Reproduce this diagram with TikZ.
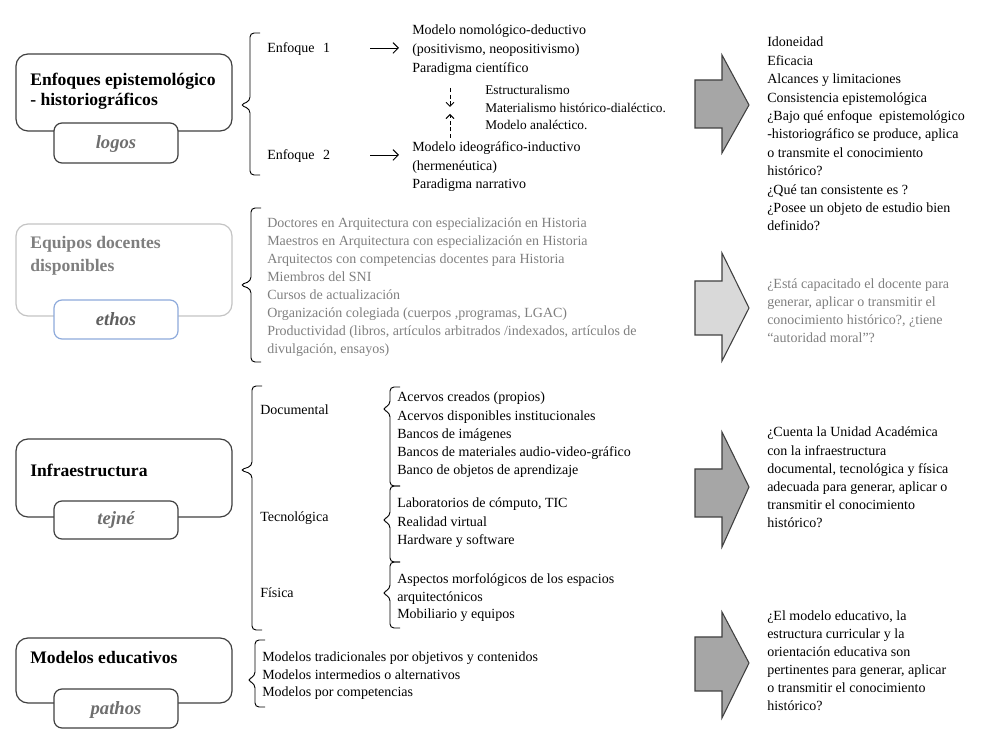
\documentclass[tikz,border=0pt]{standalone}
\usepackage{fontspec}
\setmainfont{Liberation Serif}
\usetikzlibrary{arrows.meta}
\definecolor{edge}{HTML}{404040}
\definecolor{lightedge}{HTML}{C4C4C4}
\definecolor{blueedge}{HTML}{8EAADB}
\definecolor{graytext}{HTML}{7F7F7F}
\definecolor{tabgray}{HTML}{6E6E6E}
\definecolor{darkfill}{HTML}{A6A6A6}
\definecolor{lightfill}{HTML}{D9D9D9}
\newcommand\tl[1]{\begin{tabular}[t]{@{}l@{}}#1\end{tabular}}
\newcommand\mybrace[5]{%
  \draw[bracestyle] (#1+10,#2) -- (#1,#2) -- (#1,#3-4) -- (#5,#3) -- (#1,#3+4) -- (#1,#4) -- (#1+10,#4);}
\newcommand\blockarr[6]{%
  \draw[blockarrow, fill=#1] (695,#2) -- (722,#2) -- (722,#4) -- (749,#6) -- (722,#5) -- (722,#3) -- (695,#3) -- cycle;}
\begin{document}
\begin{tikzpicture}[x=0.75pt,y=-0.75pt,
  txt/.style={anchor=base west, inner sep=0, font=\fontsize{10.5}{#1}\selectfont},
  txt/.default=13.6,
  small/.style={anchor=base west, inner sep=0, font=\fontsize{10}{13.1}\selectfont},
  hdr/.style={anchor=base west, inner sep=0, font=\fontsize{13.2}{#1}\selectfont\bfseries},
  hdr/.default=15,
  tabtxt/.style={anchor=base, inner sep=0, font=\fontsize{14}{16}\selectfont\bfseries\itshape, text=tabgray},
  outerbox/.style={draw=edge, line width=0.9pt, rounded corners=9pt, fill=white},
  tabbox/.style={draw=edge, line width=0.9pt, rounded corners=6pt, fill=white},
  blockarrow/.style={draw=edge, line width=0.8pt, line join=miter},
  bracestyle/.style={draw=black, line width=0.7pt, rounded corners=3pt},
  linearrow/.style={-{Straight Barb[length=4pt,width=8pt]}, line width=0.7pt},
  dasharrow/.style={-{Straight Barb[length=3pt,width=6pt]}, line width=0.7pt, dash pattern=on 3pt off 2pt}]
\useasboundingbox (0,0) rectangle (990,741);

% ---------- Left boxes ----------
\draw[outerbox] (16,54) rectangle (232,131);
\draw[tabbox] (54,123) rectangle (178,163);
\node[hdr] (h1) at (30,86) {\tl{Enfoques epistemológico\\- historiográficos}};
\node[tabtxt] (t1) at (116,149) {logos};

\draw[outerbox, draw=lightedge] (16,224) rectangle (232,316);
\draw[tabbox, draw=blueedge] (54,300) rectangle (178,339);
\node[hdr=17, text=graytext] (h2) at (30,249) {\tl{Equipos docentes\\disponibles}};
\node[tabtxt, text=graytext!75!black] (t2) at (116,326) {ethos};

\draw[outerbox] (16,439) rectangle (232,517);
\draw[tabbox] (54,501) rectangle (178,539);
\node[hdr] (h3) at (30,477) {Infraestructura};
\node[tabtxt] (t3) at (116,525) {tejné};

\draw[outerbox] (16,638) rectangle (232,703);
\draw[tabbox] (54,689) rectangle (178,728);
\node[hdr] (h4) at (30,663) {Modelos educativos};
\node[tabtxt] (t4) at (116,715) {pathos};

% ---------- Braces ----------
\mybrace{250}{33}{105}{175}{240}
\mybrace{251}{208}{285}{362}{240}
\mybrace{252}{386}{470}{630}{240}
\mybrace{255}{640}{680}{707}{247}
\mybrace{390}{387}{409}{486}{382}
\mybrace{390}{486}{520}{562}{382}
\mybrace{390}{562}{593}{628}{382}

% ---------- Section 1 ----------
\node[txt] (e1) at (267,53) {Enfoque\hspace{0.6em}1};
\node[txt] (e2) at (267,160) {Enfoque\hspace{0.6em}2};
\node[txt=13.9] (m1) at (412,35) {\tl{Modelo nomológico-deductivo\\(positivismo, neopositivismo)\\Paradigma científico}};
\node[txt=13.6] (m2) at (412,152) {\tl{Modelo ideográfico-inductivo\\(hermenéutica)\\Paradigma narrativo}};
\node[small] (est) at (485,95) {\tl{Estructuralismo\\Materialismo histórico-dialéctico.\\Modelo analéctico.}};
\coordinate (a1s) at (370,48); \coordinate (a1e) at (399,48);
\coordinate (a2s) at (370,155); \coordinate (a2e) at (399,155);
\draw[linearrow] (a1s) -- (a1e);
\draw[linearrow] (a2s) -- (a2e);
\coordinate (d1s) at (450,88); \coordinate (d1e) at (450,107);
\coordinate (d2s) at (450,138); \coordinate (d2e) at (450,114);
\draw[dasharrow] (d1s) -- (d1e);
\draw[dasharrow] (d2s) -- (d2e);

\blockarr{darkfill}{80}{128}{55}{153}{105}
\node[txt=13.8] (r1) at (767,47) {\tl{Idoneidad\\Eficacia\\Alcances y limitaciones\\Consistencia epistemológica\\¿Bajo qué enfoque\hspace{0.5em}epistemológico\\-historiográfico se produce, aplica\\o transmite el conocimiento\\histórico?\\¿Qué tan consistente es ?\\¿Posee un objeto de estudio bien\\definido?}};

% ---------- Section 2 ----------
\node[txt=13.4, text=graytext] (l2) at (267,228) {\tl{Doctores en Arquitectura con especialización en Historia\\Maestros en Arquitectura con especialización en Historia\\Arquitectos con competencias docentes para Historia\\Miembros del SNI\\Cursos de actualización\\Organización colegiada (cuerpos ,programas, LGAC)\\Productividad (libros, artículos arbitrados /indexados, artículos de\\divulgación, ensayos)}};
\blockarr{lightfill}{281}{335}{253}{361}{308}
\node[txt=13.5, text=graytext] (r2) at (767,289) {\tl{¿Está capacitado el docente para\\generar, aplicar o transmitir el\\conocimiento histórico?, ¿tiene\\“autoridad moral”?}};

% ---------- Section 3 ----------
\node[txt] (doc) at (260,415) {Documental};
\node[txt] (tec) at (260,522) {Tecnológica};
\node[txt] (fis) at (260,598) {Física};
\node[txt=13.6] (i1) at (397,402) {\tl{Acervos creados (propios)\\Acervos disponibles institucionales\\Bancos de imágenes\\Bancos de materiales audio-video-gráfico\\Banco de objetos de aprendizaje}};
\node[txt=13.6] (i2) at (397,508) {\tl{Laboratorios de cómputo, TIC\\Realidad virtual\\Hardware y software}};
\node[txt=13.1] (i3) at (397,584) {\tl{Aspectos morfológicos de los espacios\\arquitectónicos\\Mobiliario y equipos}};
\blockarr{darkfill}{469}{517}{432}{547}{487}
\node[txt=13.6] (r3) at (767,437) {\tl{¿Cuenta la Unidad Académica\\con la infraestructura\\documental, tecnológica y física\\adecuada para generar, aplicar o\\transmitir el conocimiento\\histórico?}};

% ---------- Section 4 ----------
\node[txt=13.1] (l4) at (262,662) {\tl{Modelos tradicionales por objetivos y contenidos\\Modelos intermedios o alternativos\\Modelos por competencias}};
\blockarr{darkfill}{637}{691}{612}{718}{663}
\node[txt=13.4] (r4) at (767,621) {\tl{¿El modelo educativo, la\\estructura curricular y la\\orientación educativa son\\pertinentes para generar, aplicar\\o transmitir el conocimiento\\histórico?}};
\end{tikzpicture}
\end{document}
